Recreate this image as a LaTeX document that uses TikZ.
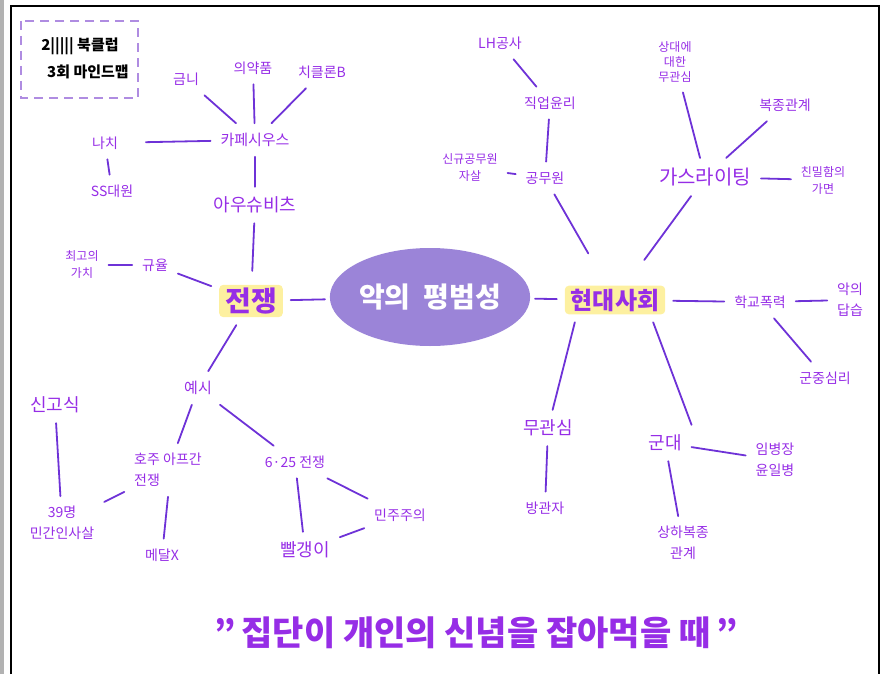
\documentclass[tikz,border=0pt]{standalone}
\usepackage{fontspec}
\setmainfont{Noto Sans CJK KR}
\usetikzlibrary{shapes.geometric}
\definecolor{txt}{RGB}{150,45,230}
\definecolor{ln}{RGB}{110,50,215}
\definecolor{hly}{RGB}{253,240,160}
\definecolor{ell}{RGB}{155,132,216}
\definecolor{dbox}{RGB}{175,140,225}
\begin{document}
\begin{tikzpicture}[x=1pt,y=-1pt,
  lbl/.style={text=txt, font=\fontsize{14}{21}\selectfont, inner sep=2pt, outer sep=8pt, align=center},
  sm/.style={font=\fontsize{12}{17}\selectfont},
  mid/.style={font=\fontsize{18}{22}\selectfont},
  hl/.style={fill=hly, text=txt, font=\fontsize{24}{27}\selectfont\bfseries, inner xsep=6pt, inner ysep=3pt, rounded corners=4pt, outer sep=8pt},
  conn/.style={draw=ln, line width=1.8pt, line cap=round},
  title/.style={font=\fontsize{15}{17}\selectfont\bfseries, text=black, inner sep=1pt}]
\useasboundingbox (0,0) rectangle (885,674);
% frame
\fill[gray!60] (0,0) rectangle (4,674);
\draw[black, line width=2.5pt] (11,674) -- (11,6) -- (879,6) -- (879,674);
% title box
\draw[dbox, line width=1.6pt, dash pattern=on 9pt off 6pt] (21,21) rectangle (138,98);
\node[title] (t1) at (80,46) {2||||| 북클럽};
\node[title] (t2) at (88,72) {3회 마인드맵};
% left branch
\node[lbl] (geumni) at (186,79) {금니};
\node[lbl] (yak) at (253,68) {의약품};
\node[lbl] (zyk) at (322,72) {치클론B};
\node[lbl, font=\fontsize{15}{18}\selectfont] (kape) at (255,140) {카페시우스};
\node[lbl] (nazi) at (105,143) {나치};
\node[lbl] (ss) at (112,191) {SS대원};
\node[lbl, mid] (ausch) at (255,205) {아우슈비츠};
\node[hl, font=\fontsize{28}{30}\selectfont\bfseries] (war) at (251,301) {전쟁};
\node[lbl] (gyu) at (155,265) {규율};
\node[lbl, sm] (best) at (82,265) {최고의\\가치};
\node[lbl, font=\fontsize{15}{18}\selectfont] (ex) at (198,388) {예시};
\node[lbl, align=left] (aus) at (168,470) {호주 아프간\\전쟁};
\node[lbl, mid] (sin) at (55,405) {신고식};
\node[lbl] (civ) at (62,523) {39명\\민간인사살};
\node[lbl] (medal) at (162,555) {메달X};
\node[lbl] (k625) at (295,462) {6·25 전쟁};
\node[lbl] (demo) at (400,515) {민주주의};
\node[lbl, mid] (red) at (305,550) {빨갱이};
% centre
\node[ellipse, fill=ell, minimum width=190pt, minimum height=98pt, inner sep=0pt, outer sep=5pt, text=white, font=\fontsize{28}{30}\selectfont\bfseries] (center) at (430,297) {악의\ \ 평범성};
% right branch
\node[hl] (mod) at (615,300) {현대사회};
\node[lbl] (lh) at (500,43) {LH공사};
\node[lbl] (ethic) at (550,103) {직업윤리};
\node[lbl] (civil) at (545,178) {공무원};
\node[lbl, sm] (newc) at (470,168) {신규공무원\\자살};
\node[lbl, font=\fontsize{12}{15}\selectfont] (care) at (675,62) {상대에\\대한\\무관심};
\node[lbl] (obey) at (785,105) {복종관계};
\node[lbl, font=\fontsize{20}{24}\selectfont] (gas) at (705,177) {가스라이팅};
\node[lbl, sm] (mask) at (823,180) {친밀함의\\가면};
\node[lbl] (school) at (760,302) {학교폭력};
\node[lbl] (rep) at (850,300) {악의\\답습};
\node[lbl] (crowd) at (825,378) {군중심리};
\node[lbl, mid] (muk) at (548,428) {무관심};
\node[lbl] (bang) at (545,508) {방관자};
\node[lbl, mid] (army) at (665,443) {군대};
\node[lbl] (lim) at (775,460) {임병장\\윤일병};
\node[lbl] (rank) at (683,543) {상하복종\\관계};
% quote
\node[text=txt, font=\fontsize{34}{38}\selectfont\bfseries] (quote) at (476,633) {"\,집단이 개인의 신념을 잡아먹을 때\,"};
% connectors left
\draw[conn] (geumni) -- (kape);
\draw[conn] (yak) -- (kape);
\draw[conn] (zyk) -- (kape);
\draw[conn, shorten <=18pt] (nazi) -- (kape);
\draw[conn] (nazi) -- (ss);
\draw[conn] (kape) -- (ausch);
\draw[conn, shorten >=6pt] (ausch) -- (war);
\draw[conn] (gyu) -- (war);
\draw[conn] (best) -- (gyu);
\draw[conn] (war) -- (center);
\draw[conn] (war) -- (ex);
\draw[conn] (ex) -- (aus);
\draw[conn] (ex) -- (k625);
\draw[conn] (sin) -- (civ);
\draw[conn] (aus) -- (civ);
\draw[conn] (aus.south) -- (medal);
\draw[conn] (k625) -- (red);
\draw[conn] (k625) -- (demo);
\draw[conn] (demo) -- (red);
% connectors right
\draw[conn] (center) -- (mod);
\draw[conn, shorten >=28pt] (civil) -- (mod);
\draw[conn] (newc) -- (civil);
\draw[conn] (civil) -- (ethic);
\draw[conn] (ethic) -- (lh);
\draw[conn, shorten >=22pt] (gas) -- (mod);
\draw[conn] (care) -- (gas);
\draw[conn] (obey) -- (gas);
\draw[conn] (gas) -- (mask);
\draw[conn] (mod) -- (school);
\draw[conn] (school) -- (rep);
\draw[conn] (school) -- (crowd);
\draw[conn] ([xshift=18pt]mod.south west) -- (muk);
\draw[conn] ([xshift=-20pt]mod.south east) -- (army.north east);
\draw[conn] (muk) -- (bang);
\draw[conn] (army) -- (rank);
\draw[conn] (army) -- (lim);
\end{tikzpicture}
\end{document}
